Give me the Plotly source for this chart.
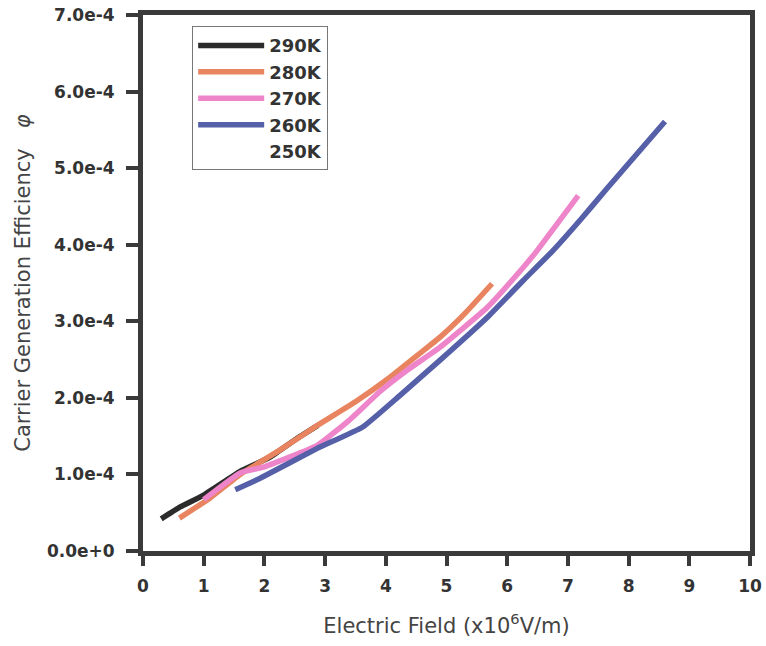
import plotly.graph_objects as go

# Data (x in 1e6 V/m, y in 1e-4)
x_290 = [0.30, 0.60, 1.00, 1.60, 2.10, 2.50, 2.88]
y_290 = [0.42, 0.57, 0.73, 1.04, 1.23, 1.45, 1.64]

x_280 = [0.60, 1.10, 1.60, 2.26, 2.87, 3.50, 4.07, 4.56, 4.89, 5.30, 5.75]
y_280 = [0.43, 0.69, 1.00, 1.32, 1.64, 1.95, 2.27, 2.58, 2.79, 3.10, 3.49]

x_270 = [1.00, 1.60, 2.00, 2.87, 3.40, 3.90, 4.35, 4.89, 5.67, 6.26, 6.49, 7.17]
y_270 = [0.67, 1.02, 1.10, 1.38, 1.71, 2.08, 2.36, 2.66, 3.18, 3.70, 3.92, 4.64]

x_260 = [1.52, 1.93, 2.87, 3.62, 4.23, 4.89, 5.67, 6.26, 6.75, 7.20, 7.64, 8.60]
y_260 = [0.80, 0.95, 1.34, 1.62, 2.03, 2.49, 3.05, 3.53, 3.92, 4.32, 4.73, 5.61]

x_250 = []
y_250 = []

series = [
    ("290K", x_290, y_290, "#2b2b2b"),
    ("280K", x_280, y_280, "#e8845f"),
    ("270K", x_270, y_270, "#ee84c9"),
    ("260K", x_260, y_260, "#5560a8"),
    ("250K", x_250, y_250, "rgba(255,255,255,0)"),
]

x_ticks = list(range(0, 11))
y_tickvals = [0, 1e-4, 2e-4, 3e-4, 4e-4, 5e-4, 6e-4, 7e-4]
y_ticktext = ["0.0e+0", "1.0e-4", "2.0e-4", "3.0e-4", "4.0e-4", "5.0e-4", "6.0e-4", "7.0e-4"]

FONT = "DejaVu Sans, sans-serif"

fig = go.Figure()
for name, xs, ys, color in series:
    fig.add_trace(go.Scatter(
        x=xs if xs else [None], y=[v * 1e-4 for v in ys] if ys else [None],
        mode="lines", name=name,
        line=dict(color=color, width=5.5, shape="spline", smoothing=0.4),
    ))

tick_font = dict(family=FONT, size=17, color="#333333", weight="bold")
fig.update_layout(
    width=766, height=646,
    margin=dict(l=143, r=16, t=15, b=95),
    paper_bgcolor="white", plot_bgcolor="white",
    font=dict(family=FONT, color="#333333"),
    showlegend=True,
    legend=dict(
        x=0.081, y=0.979, xanchor="left", yanchor="top",
        bgcolor="white", bordercolor="#777777", borderwidth=1,
        font=dict(family=FONT, size=18, color="#333333", weight="bold"),
        itemwidth=66, tracegroupgap=0,
    ),
    xaxis=dict(
        range=[0, 10], tickvals=x_ticks, ticktext=[str(t) for t in x_ticks],
        ticks="outside", ticklen=10, tickwidth=4, tickcolor="#3a3a3a",
        showline=True, linewidth=5, linecolor="#3a3a3a", mirror=True,
        showgrid=False, zeroline=False, automargin=False,
        tickfont=tick_font, ticklabelstandoff=6, ticklabeloverflow="allow",
        title=dict(text="Electric Field (x10<sup>6</sup>V/m)",
                   font=dict(family=FONT, size=21, color="#444444"),
                   standoff=24),
    ),
    yaxis=dict(
        range=[0, 7e-4], tickvals=y_tickvals, ticktext=y_ticktext,
        ticks="outside", ticklen=12, tickwidth=4, tickcolor="#3a3a3a",
        showline=True, linewidth=5, linecolor="#3a3a3a", mirror=True,
        showgrid=False, zeroline=False, automargin=False,
        tickfont=tick_font, ticklabelstandoff=8, ticklabeloverflow="allow",
        title=dict(text="Carrier Generation Efficiency   <i>φ</i>",
                   font=dict(family=FONT, size=21, color="#444444"),
                   standoff=12),
    ),
)

# remove the browser's default 8px page margin so the figure fills the window exactly
fig.write_html(
    "out.html",
    config={"displayModeBar": False},
    post_script="document.body.style.margin='0';document.body.style.overflow='hidden';",
)
